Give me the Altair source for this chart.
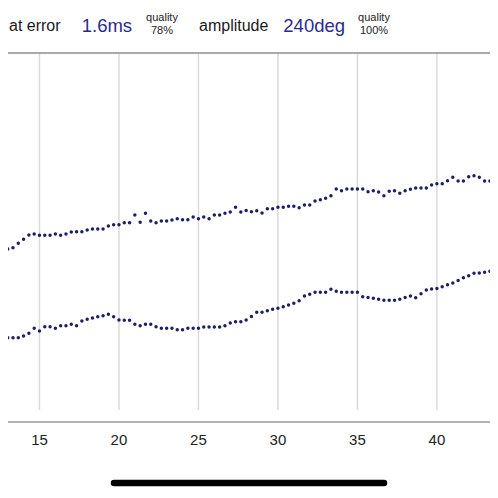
import altair as alt
import pandas as pd

# sample times (x, seconds) : regular sampling, 3 samples per unit
time_start = 12.667
time_step = 1 / 3

# upper trace values (arbitrary units)
upper = [172, 173, 174.3, 178.7, 182.7, 187, 188, 186.7, 186.7, 186.7,
         188, 186.7, 188, 190, 190.3, 190.3, 192, 193, 193, 193,
         196, 197.3, 197.3, 199.3, 199.3, 207, 199.7, 208.7, 201, 199.3,
         201, 201, 202, 203.3, 202.3, 202.3, 205, 203.3, 205, 203.3,
         207, 207, 208.7, 210, 214.7, 210, 211.5, 210.3, 211.3, 209,
         213.3, 213.3, 214.7, 214.7, 215.7, 215.7, 214.3, 217, 217, 221,
         222.3, 223.7, 226.3, 233, 231.3, 233, 233, 233, 233, 230.2,
         231.3, 230, 226.3, 230.7, 231.3, 228.7, 231.3, 232.7, 234, 234,
         234, 237, 238.3, 238.3, 241.3, 244.7, 241, 241, 245.3, 246.3,
         244.7, 241, 241, 238.7]

# lower trace values
lower = [83, 84.3, 84.3, 84.3, 86, 88.7, 93.7, 91, 95.3, 95.3,
         93.7, 96.3, 96.3, 97.7, 96.3, 101, 102.7, 104, 105.3, 106.3,
         107.7, 105.3, 102, 101.7, 101.7, 97.7, 96.3, 97.7, 97.7, 95.3,
         93.7, 93.7, 93.7, 92.3, 92.3, 93.7, 93.7, 93.7, 95, 95,
         95, 95, 96.3, 99, 100.3, 100.3, 102, 105.5, 109.7, 109.7,
         111.3, 112.7, 113.7, 115.3, 117, 118.7, 121.3, 126, 127.7, 129.7,
         129.7, 129.7, 132.7, 130.7, 129.7, 129.7, 129.7, 129.7, 125.3, 124.5,
         123.7, 122.7, 121.8, 121.7, 121.7, 122.7, 124.5, 126, 124.2, 128.3,
         132, 133, 133.5, 135.3, 137.3, 139, 141.6, 144.2, 146.3, 148.7,
         149, 149.8, 150.8, 152.3]

tick_values = [15, 20, 25, 30, 35, 40]

rows = []
for name, vals in (("upper", upper), ("lower", lower)):
    for i, v in enumerate(vals):
        rows.append({"t": time_start + i * time_step, "v": v, "trace": name})
df = pd.DataFrame(rows)
ticks = pd.DataFrame({"t": tick_values, "label": [str(t) for t in tick_values]})
one = pd.DataFrame({"k": [0]})

W, H = 482, 482
xs = alt.Scale(domain=[13.02, 43.34], nice=False, zero=False)
ys = alt.Scale(domain=[-68, 414], nice=False, zero=False)
FONT = "Liberation Sans"
DOT = "#1e1e66"
BLUE = "#2b2a8e"

grid = alt.Chart(ticks).mark_rule(color="#dadada", strokeWidth=1.5).encode(
    x=alt.X("t:Q", scale=xs, axis=None),
    y=alt.value(45), y2=alt.value(402))

tick_text = alt.Chart(ticks).mark_text(font=FONT, fontSize=15, fontWeight=400, color="#222222",
                                       baseline="middle", align="center").encode(
    x=alt.X("t:Q", scale=xs, axis=None), y=alt.value(432), text="label:N")

top_line = alt.Chart(one).mark_rule(color="#8e8e8e", strokeWidth=1.3).encode(
    x=alt.value(0), x2=alt.value(W), y=alt.value(45))
axis_line = alt.Chart(one).mark_rule(color="#9a9a9a", strokeWidth=1.3).encode(
    x=alt.value(0), x2=alt.value(W), y=alt.value(414))

dots = alt.Chart(df).mark_circle(size=12, color=DOT, opacity=1, clip=True).encode(
    x=alt.X("t:Q", scale=xs, axis=None),
    y=alt.Y("v:Q", scale=ys, axis=None),
    detail="trace:N")

def txt(s, x, y, size, color, align="left"):
    return alt.Chart(one).mark_text(text=s, font=FONT, fontSize=size, fontWeight=400,
                                    color=color, align=align,
                                    baseline="alphabetic").encode(
        x=alt.value(x), y=alt.value(y))

header = [
    txt("at error", 1, 22.7, 16, "#1a1a1a"),
    txt("1.6ms", 73.7, 24.3, 18.5, BLUE),
    txt("quality", 154, 12.7, 11, "#222222", "center"),
    txt("78%", 154, 26, 11, "#222222", "center"),
    txt("amplitude", 191, 22.7, 16, "#1a1a1a"),
    txt("240deg", 275.3, 24.3, 18.5, BLUE),
    txt("quality", 366, 12.7, 11, "#222222", "center"),
    txt("100%", 366, 26, 11, "#222222", "center"),
]

home_bar = alt.Chart(one).mark_rule(color="#000000", strokeWidth=6.5, strokeCap="round").encode(
    x=alt.value(106), x2=alt.value(376), y=alt.value(475))

chart = alt.layer(grid, top_line, axis_line, tick_text, dots, home_bar, *header).properties(
    width=W, height=H, autosize=alt.AutoSizeParams(type="none"), padding=0,
    background="white"
).configure_view(stroke=None)

chart.save("out.html", embed_options={"renderer": "svg", "actions": False})
